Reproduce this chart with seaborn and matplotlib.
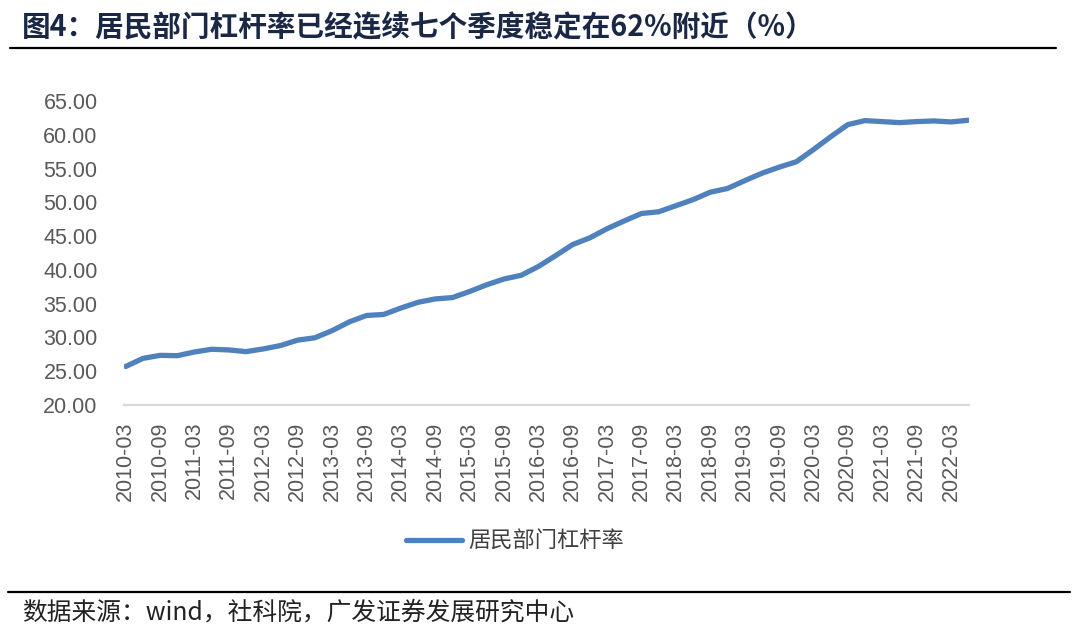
import numpy as np
import pandas as pd
import matplotlib
matplotlib.use("Agg")
import matplotlib.pyplot as plt
import seaborn as sns

# 居民部门杠杆率（%），季度数据 2010-03 ~ 2022-06
quarters = [f"{y}-{m}" for y in range(2010, 2023) for m in ("03", "06", "09", "12")][:50]
leverage = [25.7, 26.9, 27.35, 27.3, 27.85, 28.25, 28.15, 27.9, 28.3, 28.8,
            29.6, 29.95, 31.0, 32.3, 33.25, 33.4, 34.35, 35.2, 35.7, 35.9,
            36.8, 37.8, 38.65, 39.2, 40.5, 42.1, 43.75, 44.75, 46.1, 47.25,
            48.35, 48.6, 49.5, 50.4, 51.5, 52.05, 53.2, 54.3, 55.2, 56.0,
            57.8, 59.7, 61.5, 62.1, 61.95, 61.8, 61.95, 62.05, 61.9, 62.15]
series_name = "居民部门杠杆率"
title = "图4：居民部门杠杆率已经连续七个季度稳定在62%附近（%）"
source = "数据来源：wind，社科院，广发证券发展研究中心"

df = pd.DataFrame({"pos": np.arange(len(quarters)), "q": quarters, "v": leverage})

sns.set_style("white")
plt.rcParams["font.family"] = ["Liberation Sans", "Noto Sans CJK SC", "DejaVu Sans"]
cjk = ["Noto Sans CJK SC", "DejaVu Sans"]

W, H = 1080, 641
fig = plt.figure(figsize=(W / 100, H / 100), dpi=100)
ax = fig.add_axes([124 / W, 1 - 405 / H, (969 - 124) / W, (405 - 101) / H])

sns.lineplot(data=df, x="pos", y="v", color="#4F81BD", linewidth=3.8,
             label=series_name, ax=ax, legend=False)
ax.lines[0].set_solid_capstyle("round")

ax.set_xlim(-0.1, 49.05)
ax.set_ylim(20, 65)
ax.set_yticks(np.arange(20, 66, 5))
ax.set_yticklabels([f"{t:.2f}" for t in np.arange(20, 66, 5)])
ax.set_xticks(df["pos"][::2])
ax.set_xticklabels(df["q"][::2], rotation=90)
ax.set_xlabel("")
ax.set_ylabel("")
ax.tick_params(axis="both", length=0, labelsize=15.5, labelcolor="#595959")
ax.tick_params(axis="y", pad=19)
ax.tick_params(axis="x", pad=12)
for s in ("left", "right", "top"):
    ax.spines[s].set_visible(False)
ax.spines["bottom"].set_color("#D9D9D9")
ax.spines["bottom"].set_linewidth(1.6)

h = plt.Line2D([], [], color="#4F81BD", linewidth=3.8, solid_capstyle="round")
fig.legend([h], [series_name], loc="center", bbox_to_anchor=(515 / W, 1 - 541 / H),
           frameon=False, handlelength=2.5, handletextpad=0.3,
           prop={"family": cjk, "size": 16}, labelcolor="#404040")

fig.text(22 / W, 1 - 27 / H, title, fontsize=20.6, fontweight="bold",
         family=cjk, color="#1B2845", va="center", ha="left")
fig.add_artist(plt.Line2D([10 / W, 1056 / W], [1 - 48 / H] * 2, color="black", linewidth=1.6))
fig.add_artist(plt.Line2D([8 / W, 1070 / W], [1 - 592 / H] * 2, color="black", linewidth=1.6))
fig.text(22 / W, 1 - 613 / H, source, fontsize=17.8, family=cjk, color="#222222",
         va="center", ha="left")

fig.savefig("out.png", dpi=100)
